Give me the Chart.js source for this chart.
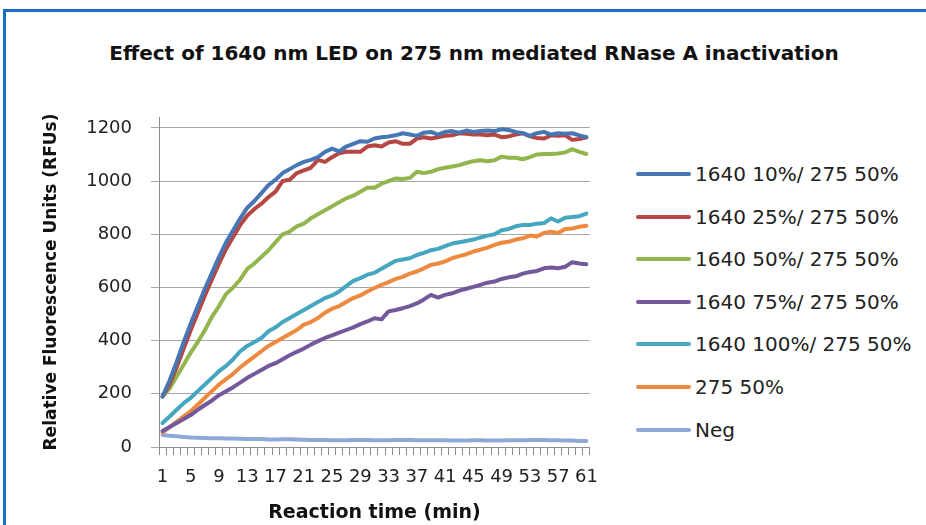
<!DOCTYPE html>
<html>
<head>
<meta charset="utf-8">
<script src="https://cdn.jsdelivr.net/npm/chart.js@4.4.1/dist/chart.umd.min.js"></script>
<style>
  html, body { margin: 0; padding: 0; background: #fff; }
  body { width: 926px; height: 525px; position: relative; overflow: hidden; font-family: "DejaVu Sans", sans-serif; }
  .frame { position: absolute; left: 3px; top: 9px; width: 1000px; height: 600px;
           border-top: 3px solid #1b6fc2; border-left: 3px solid #1b6fc2; }
  .title { position: absolute; left: 0; top: 41px; width: 948px; line-height: 24px;
           text-align: center; font-weight: bold; font-size: 20px; color: #111; }
  .chartBox { position: absolute; left: 0; top: 0; width: 610px; height: 525px; }
  .legend { position: absolute; left: 0; top: 0; }
  .legend .row { position: absolute; left: 636px; height: 24px; width: 290px; }
  .legend .swatch { position: absolute; left: 0; top: 10px; width: 55px; height: 4px; border-radius: 2px; }
  .legend .label { position: absolute; left: 59px; top: 0; line-height: 24px; font-size: 20px; color: #222; white-space: nowrap; }
</style>
</head>
<body>
<div class="frame"></div>
<div class="title">Effect of 1640 nm LED on 275 nm mediated RNase A inactivation</div>
<div class="chartBox"><canvas id="chart"></canvas></div>
<div class="legend" id="legend"></div>
<script>
// reaction time, minutes
const minutes = [1,2,3,4,5,6,7,8,9,10,11,12,13,14,15,16,17,18,19,20,
  21,22,23,24,25,26,27,28,29,30,31,32,33,34,35,36,37,38,39,40,
  41,42,43,44,45,46,47,48,49,50,51,52,53,54,55,56,57,58,59,60,61];
const shownTicks = [1,5,9,13,17,21,25,29,33,37,41,45,49,53,57,61];
const yTicks = [0,200,400,600,800,1000,1200];

const s1640_10 = [190,250,320,395,465,530,595,655,715,770,815,860,900,925,955,985,1005,1030,1045,1060,
  1072,1080,1090,1110,1122,1112,1130,1140,1150,1148,1160,1165,1168,1172,1180,1175,1170,1182,1185,1175,
  1185,1188,1182,1190,1185,1188,1190,1188,1195,1192,1185,1180,1170,1180,1185,1175,1180,1178,1180,1172,1165];
const s1640_25 = [190,235,300,370,440,505,570,630,690,745,790,835,870,895,915,940,960,1000,1005,1030,
  1040,1050,1080,1072,1090,1105,1110,1110,1110,1130,1135,1130,1145,1150,1140,1140,1160,1165,1160,1165,
  1170,1172,1180,1178,1175,1175,1172,1175,1165,1168,1175,1180,1168,1162,1160,1172,1170,1172,1155,1158,1165];
const s1640_50 = [190,220,265,310,355,395,440,490,530,575,600,630,670,690,715,740,770,800,810,830,
  840,860,875,890,905,920,935,945,960,975,975,990,1000,1010,1008,1012,1035,1030,1035,1045,
  1050,1055,1060,1068,1075,1078,1075,1078,1092,1088,1088,1082,1090,1100,1102,1102,1104,1108,1120,1110,1102];
const s1640_75 = [60,75,90,105,120,140,158,175,195,210,225,242,260,275,290,305,315,330,345,358,
  370,385,398,410,420,430,440,450,462,472,484,480,510,515,522,530,540,555,572,562,
  572,578,588,595,602,610,618,622,632,638,642,652,658,662,672,675,672,678,695,690,687];
const s1640_100 = [90,115,140,165,185,210,235,260,285,305,330,360,380,395,410,435,450,470,485,500,
  515,530,545,560,570,585,605,625,635,648,655,670,685,700,705,710,722,730,740,745,
  755,765,770,775,780,788,795,800,815,820,830,835,835,840,842,860,848,862,865,868,878];
const s275_50 = [55,75,95,115,135,160,185,210,235,255,275,300,320,340,360,380,395,410,425,440,
  460,470,485,505,520,530,545,560,570,585,598,610,620,632,640,652,660,672,685,690,
  698,710,718,725,735,742,750,760,768,772,780,785,795,792,805,810,805,820,822,828,832];
const sNeg = [45,42,40,38,36,35,34,33,33,32,32,31,30,30,30,28,28,29,29,28,
  27,26,26,26,25,25,25,26,26,26,25,25,25,26,26,26,25,25,25,25,
  25,24,24,24,25,25,24,24,24,25,25,25,26,26,26,25,25,24,24,23,23];

const seriesNames = ["1640 10%/ 275 50%", "1640 25%/ 275 50%", "1640 50%/ 275 50%",
  "1640 75%/ 275 50%", "1640 100%/ 275 50%", "275 50%", "Neg"];
const seriesValues = [s1640_10, s1640_25, s1640_50, s1640_75, s1640_100, s275_50, sNeg];
const seriesColors = ["#4676b4", "#b64642", "#92b54e", "#74589c", "#45a6c0", "#ed8a3f", "#8ea9d6"];

const datasets = seriesNames.map((name, i) => ({
  label: name,
  data: seriesValues[i],
  borderColor: seriesColors[i],
  backgroundColor: seriesColors[i],
  borderWidth: 4,
  pointRadius: 0,
  tension: 0,
  borderJoinStyle: "round",
  borderCapStyle: "round",
  fill: false
}));

// html legend, rows spaced like the original
const legendEl = document.getElementById("legend");
seriesNames.forEach((name, i) => {
  const row = document.createElement("div");
  row.className = "row";
  row.style.top = (162 + i * 42.6) + "px";
  row.innerHTML = '<div class="swatch" style="background:' + seriesColors[i] + '"></div>' +
    '<div class="label">' + name + '</div>';
  legendEl.appendChild(row);
});

new Chart(document.getElementById("chart"), {
  type: "line",
  data: { labels: minutes, datasets: datasets },
  options: {
    responsive: true,
    maintainAspectRatio: false,
    animation: false,
    layout: { padding: { top: 117, right: 20, left: 0, bottom: 0 } },
    plugins: { legend: { display: false }, tooltip: { enabled: false } },
    scales: {
      x: {
        type: "category",
        offset: true,
        afterFit: (scale) => { scale.height = 78; },
        grid: { drawOnChartArea: false, drawTicks: true, tickLength: 8, offset: true, color: "#8c8c8c" },
        border: { color: "#8c8c8c", width: 1 },
        ticks: {
          autoSkip: false, maxRotation: 0, minRotation: 0, padding: 12,
          color: "#222", font: { family: "DejaVu Sans", size: 18 },
          callback: function (value, index) {
            const m = minutes[index];
            return shownTicks.includes(m) ? String(m) : "";
          }
        },
        title: {
          display: true, text: "Reaction time (min)", color: "#111",
          font: { family: "DejaVu Sans", size: 19, weight: "bold" }, padding: 1
        }
      },
      y: {
        min: 0, max: 1241,
        afterFit: (scale) => { scale.width = 159; },
        afterBuildTicks: (scale) => { scale.ticks = yTicks.map(v => ({ value: v })); },
        grid: { color: "#a6a6a6", tickLength: 8, drawTicks: true },
        border: { color: "#8c8c8c", width: 1 },
        ticks: {
          padding: 19, color: "#222", font: { family: "DejaVu Sans", size: 18 },
          callback: (value) => String(value)
        },
        title: {
          display: true, text: "Relative Fluorescence Units (RFUs)", color: "#111",
          font: { family: "DejaVu Sans", size: 17, weight: "bold" }, padding: 41
        }
      }
    }
  }
});
</script>
</body>
</html>
